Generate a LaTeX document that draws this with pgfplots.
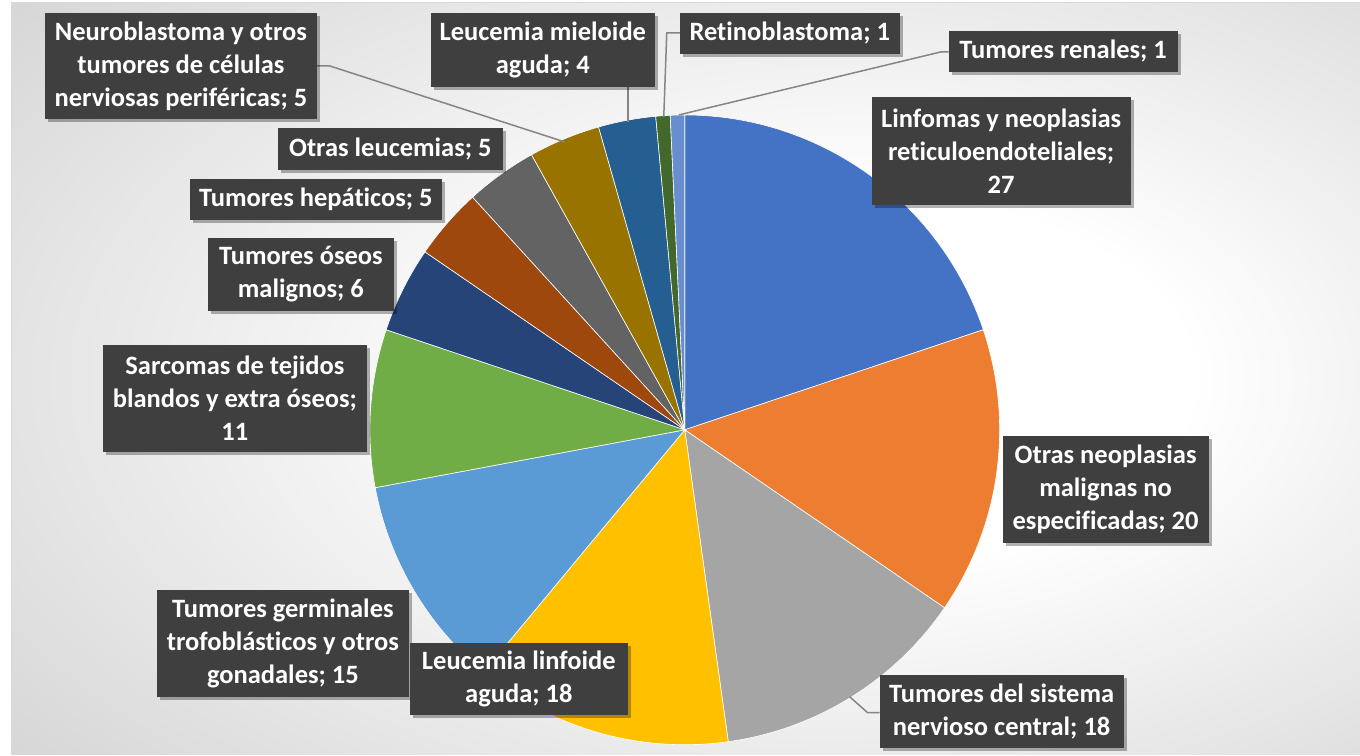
\documentclass[border=0pt]{standalone}
\usepackage{pgfplots}
\pgfplotsset{compat=1.18}
\usepackage{pgfplotstable}
\usepackage{fontspec}
\setmainfont{Carlito}[Ligatures=NoCommon]
\usetikzlibrary{shadows}

\definecolor{c1}{HTML}{4472C4}
\definecolor{c2}{HTML}{ED7D31}
\definecolor{c3}{HTML}{A5A5A5}
\definecolor{c4}{HTML}{FFC000}
\definecolor{c5}{HTML}{5B9BD5}
\definecolor{c6}{HTML}{70AD47}
\definecolor{c7}{HTML}{264478}
\definecolor{c8}{HTML}{9E480E}
\definecolor{c9}{HTML}{636363}
\definecolor{c10}{HTML}{997300}
\definecolor{c11}{HTML}{255E91}
\definecolor{c12}{HTML}{43682B}
\definecolor{c13}{HTML}{698ED0}
\definecolor{lblbg}{HTML}{3F3F3F}
\definecolor{leader}{HTML}{858585}

\pgfdeclareradialshading{bgshade}{\pgfpoint{8bp}{0bp}}{%
  color(0bp)=(white); color(12bp)=(white); color(50bp)=(black!23); color(75bp)=(black!27)}

% clockwise from 12 o'clock
\pgfplotstableread{
value col
27 c1
20 c2
18 c3
18 c4
15 c5
11 c6
6  c7
5  c8
5  c9
5  c10
4  c11
1  c12
1  c13
}\piedata

\tikzset{lbl/.style={fill=lblbg, text=white, inner sep=0pt, align=center,
  font=\fontsize{26.5}{33}\selectfont\bfseries,
  drop shadow={shadow xshift=3pt, shadow yshift=-3pt, opacity=0.3, fill=black}}}

\begin{document}
\begin{tikzpicture}
\begin{axis}[x=1pt, y=1pt, xmin=0, xmax=1360, ymin=0, ymax=755,
  hide axis, clip=false]

\fill[white] (axis cs:0,0) rectangle (axis cs:1360,755);
\shade[shading=bgshade] (axis cs:12,0) rectangle (axis cs:1360,752);
\draw[black!15, line width=1pt] (axis cs:12,0) -- (axis cs:12,752) -- (axis cs:1360,752);

% pie slices
\pgfplotstablegetrowsof{\piedata}
\pgfmathtruncatemacro\lastrow{\pgfplotsretval-1}
\gdef\total{0}
\pgfplotsforeachungrouped \i in {0,...,\lastrow}{%
  \pgfplotstablegetelem{\i}{value}\of\piedata
  \pgfmathsetmacro\tmpsum{\total+\pgfplotsretval}\global\let\total\tmpsum}
\gdef\cum{0}
\pgfplotsforeachungrouped \i in {0,...,\lastrow}{%
  \pgfplotstablegetelem{\i}{value}\of\piedata\let\sv\pgfplotsretval
  \pgfplotstablegetelem{\i}{col}\of\piedata\let\sc\pgfplotsretval
  \pgfmathsetmacro\angA{90-\cum/\total*360}%
  \pgfmathsetmacro\angB{90-(\cum+\sv)/\total*360}%
  \edef\doslice{\noexpand\addplot[fill=\sc, draw=white, line width=0.6pt,
    domain=\angB:\angA, samples=60]
    ({685+315*cos(x)},{325+315*sin(x)}) -- (axis cs:685,325) -- cycle;}%
  \doslice
  \pgfmathsetmacro\tmpcum{\cum+\sv}\global\let\cum\tmpcum
}

% leader lines
\draw[leader, line width=1.5pt] (axis cs:317,689) -- (axis cs:330,689) -- (axis cs:565,613);
\draw[leader, line width=1.5pt] (axis cs:628,668) -- (axis cs:628,633);
\draw[leader, line width=1.5pt] (axis cs:680,722) -- (axis cs:667,722) -- (axis cs:664,638);
\draw[leader, line width=1.5pt] (axis cs:949,703) -- (axis cs:941,703) -- (axis cs:679,640);
\draw[leader, line width=1.5pt] (axis cs:850,58) -- (axis cs:868,42) -- (axis cs:880,42);

% data labels
\node[lbl, minimum width=272pt, minimum height=106pt] at (axis cs:181,689)
  {Neuroblastoma y otros\\tumores de células\\nerviosas periféricas; 5};
\node[lbl, minimum width=224pt, minimum height=74pt] at (axis cs:543,705)
  {Leucemia mieloide\\aguda; 4};
\node[lbl, minimum width=220pt, minimum height=41pt] at (axis cs:790,721.5)
  {Retinoblastoma; 1};
\node[lbl, minimum width=229pt, minimum height=41pt] at (axis cs:1063.5,703.5)
  {Tumores renales; 1};
\node[lbl, minimum width=259pt, minimum height=108pt] at (axis cs:1001.5,604)
  {Linfomas y neoplasias\\reticuloendoteliales;\\27};
\node[lbl, minimum width=225pt, minimum height=42pt] at (axis cs:390.5,606)
  {Otras leucemias; 5};
\node[lbl, minimum width=252pt, minimum height=41pt] at (axis cs:316,555.5)
  {Tumores hepáticos; 5};
\node[lbl, minimum width=186pt, minimum height=73pt] at (axis cs:301,480.5)
  {Tumores óseos\\malignos; 6};
\node[lbl, minimum width=264pt, minimum height=107pt] at (axis cs:235,356.5)
  {Sarcomas de tejidos\\blandos y extra óseos;\\11};
\node[lbl, minimum width=206pt, minimum height=107pt] at (axis cs:1106,265.5)
  {Otras neoplasias\\malignas no\\especificadas; 20};
\node[lbl, minimum width=252pt, minimum height=107pt] at (axis cs:283,111.5)
  {Tumores germinales\\trofoblásticos y otros\\gonadales; 15};
\node[lbl, minimum width=218pt, minimum height=72pt] at (axis cs:519,76)
  {Leucemia linfoide\\aguda; 18};
\node[lbl, minimum width=244pt, minimum height=73pt] at (axis cs:1002,43.5)
  {Tumores del sistema\\nervioso central; 18};
\end{axis}
\end{tikzpicture}
\end{document}
